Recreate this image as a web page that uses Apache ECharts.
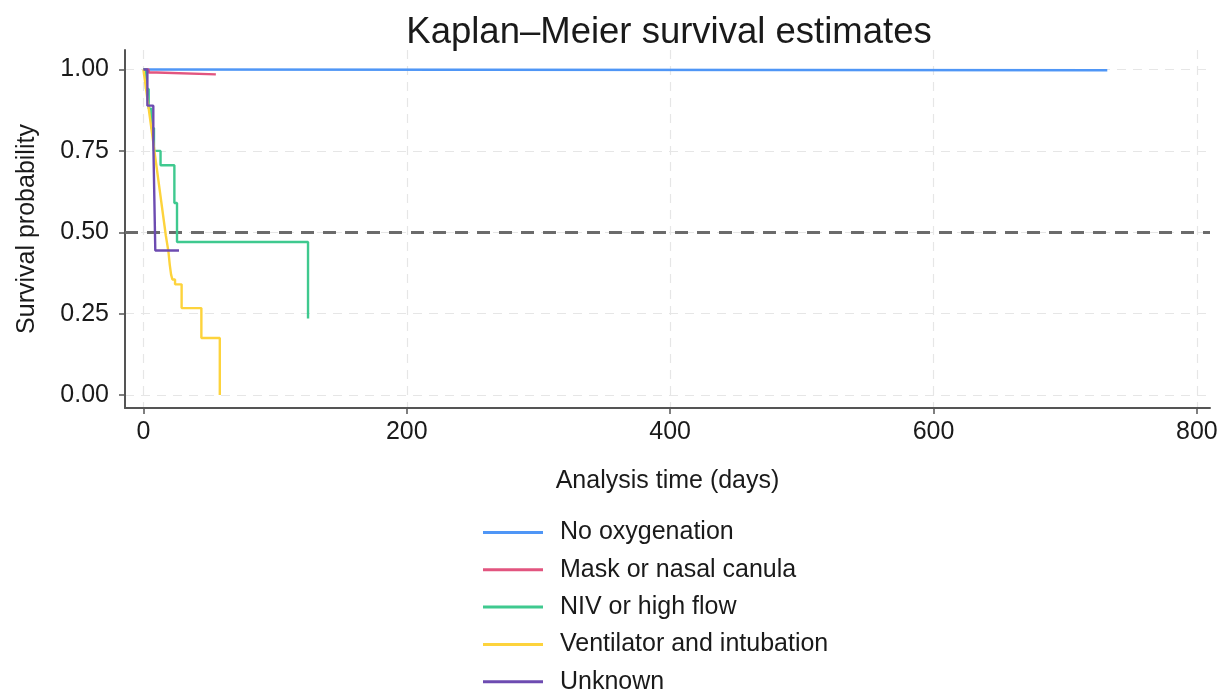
<!DOCTYPE html>
<html>
<head>
<meta charset="utf-8">
<script src="https://cdn.jsdelivr.net/npm/echarts@6/dist/echarts.min.js"></script>
<style>
html,body{margin:0;padding:0;background:#fff;}
#chart{width:1226px;height:690px;}
</style>
</head>
<body>
<div id="chart"></div>
<script>
// ---- Data ----
const seriesNames = ['No oxygenation', 'Mask or nasal canula', 'NIV or high flow', 'Ventilator and intubation', 'Unknown'];

const noOxyT = [0, 3, 732];
const noOxyS = [1.0, 0.998, 0.998];

const maskT = [0, 4, 10, 55];
const maskS = [1.0, 0.991, 0.985, 0.985];

const nivT = [0, 2, 4, 6, 8, 13, 23.5, 25.5, 125, 125];
const nivS = [1.0, 0.94, 0.88, 0.82, 0.75, 0.706, 0.59, 0.47, 0.47, 0.235];

const ventT = [0, 1, 2, 3, 4, 5, 6, 7, 8, 9, 10, 11, 12, 13, 14, 15, 16, 17, 18, 19, 20, 21, 22, 24, 29, 44, 58];
const ventS = [1.0, 0.97, 0.94, 0.91, 0.88, 0.85, 0.82, 0.79, 0.76, 0.73, 0.70, 0.67, 0.64, 0.61, 0.58, 0.55, 0.52, 0.49, 0.465, 0.44, 0.40, 0.37, 0.355, 0.34, 0.267, 0.175, 0.0];

const unknownT = [0, 3, 7.5, 8, 8.5, 9, 27];
const unknownS = [1.0, 0.889, 0.778, 0.667, 0.556, 0.444, 0.444];

const xTicks = [0, 200, 400, 600, 800];
const yTicks = [0, 0.25, 0.5, 0.75, 1];
const refLineValue = 0.5;

const colors = ['#4f96f6', '#e2557f', '#3fc98f', '#fdd33c', '#6d4bb1'];

const zip = (t, s) => t.map((v, i) => [v, s[i]]);
const allData = [zip(noOxyT, noOxyS), zip(maskT, maskS), zip(nivT, nivS), zip(ventT, ventS), zip(unknownT, unknownS)];

const fontFamily = '"Liberation Sans", Arial, Helvetica, sans-serif';

const chart = echarts.init(document.getElementById('chart'), null, {renderer: 'canvas'});

const series = allData.map((d, i) => ({
  name: seriesNames[i],
  type: 'line',
  step: 'end',
  data: d,
  showSymbol: false,
  symbol: 'none',
  lineStyle: {width: 2.4, color: colors[i]},
  itemStyle: {color: colors[i]},
  z: 3 + i,
  silent: true,
  animation: false
}));

series.push({
  name: 'ref',
  type: 'line',
  data: [],
  silent: true,
  animation: false,
  markLine: {
    silent: true,
    symbol: ['none', 'none'],
    label: {show: false},
    lineStyle: {color: '#6b6b6b', width: 3, type: [13, 9]},
    data: [{yAxis: refLineValue}]
  },
  z: 2
});

chart.setOption({
  animation: false,
  backgroundColor: '#ffffff',
  color: colors,
  title: {
    text: 'Kaplan–Meier survival estimates',
    left: 664,
    textAlign: 'center',
    top: 9,
    textStyle: {fontFamily, fontSize: 36.5, fontWeight: 'normal', color: '#1a1a1a'}
  },
  grid: {left: 125, right: 16, top: 50, bottom: 282, containLabel: false},
  xAxis: {
    type: 'value',
    min: -14,
    max: 810,
    name: 'Analysis time (days)',
    nameLocation: 'middle',
    nameGap: 61,
    nameTextStyle: {fontFamily, fontSize: 25, color: '#1a1a1a'},
    axisLine: {show: true, onZero: false, lineStyle: {color: '#555', width: 2}},
    axisTick: {show: true, length: 6, lineStyle: {color: '#555', width: 1.5}, customValues: xTicks},
    axisLabel: {fontFamily, fontSize: 25, color: '#1a1a1a', margin: 12, customValues: xTicks},
    splitLine: {show: true, lineStyle: {color: '#e6e6e6', width: 1.2, type: [9, 7]}}
  },
  yAxis: {
    type: 'value',
    min: -0.04,
    max: 1.06,
    name: 'Survival probability',
    nameLocation: 'middle',
    nameGap: 85,
    nameRotate: 90,
    nameTextStyle: {fontFamily, fontSize: 25, color: '#1a1a1a'},
    axisLine: {show: true, onZero: false, lineStyle: {color: '#555', width: 2}},
    axisTick: {show: true, length: 6, lineStyle: {color: '#555', width: 1.5}, customValues: yTicks},
    axisLabel: {fontFamily, fontSize: 25, color: '#1a1a1a', margin: 16, customValues: yTicks,
      formatter: v => v.toFixed(2)},
    splitLine: {show: true, lineStyle: {color: '#e6e6e6', width: 1.2, type: [9, 7]}}
  },
  legend: {
    data: seriesNames,
    orient: 'vertical',
    left: 483,
    top: 520,
    height: 180,
    padding: 0,
    itemWidth: 60,
    itemHeight: 3,
    itemGap: 12.3,
    icon: 'rect',
    selectedMode: false,
    textStyle: {fontFamily, fontSize: 25, color: '#1a1a1a', padding: [0, 0, 0, 12]}
  },
  series
});
</script>
</body>
</html>
